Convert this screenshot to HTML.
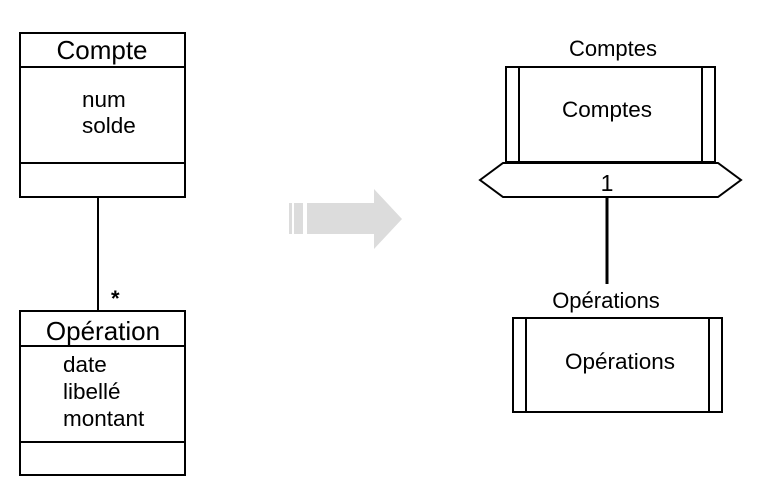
<!DOCTYPE html>
<html><head><style>body{margin:0;background:#fff}</style></head><body>
<svg width="759" height="497" xmlns="http://www.w3.org/2000/svg" style="display:block;font-family:'Liberation Sans',sans-serif">
<g fill="none" stroke="#000" stroke-width="2">
<rect x="20" y="33" width="165" height="164"/>
<line x1="20" y1="67" x2="185" y2="67"/>
<line x1="20" y1="163" x2="185" y2="163"/>
<rect x="20" y="311" width="165" height="164"/>
<line x1="20" y1="346" x2="185" y2="346"/>
<line x1="20" y1="442" x2="185" y2="442"/>
<line x1="98" y1="197" x2="98" y2="311"/>
<rect x="506" y="67" width="209" height="95"/>
<line x1="519" y1="67" x2="519" y2="162"/>
<line x1="702" y1="67" x2="702" y2="162"/>
<polygon points="480,180 503,163 718,163 741,180 718,197 503,197" fill="#fff"/>
<line x1="607" y1="197" x2="607" y2="284" stroke-width="3"/>
<rect x="513" y="318" width="209" height="94"/>
<line x1="526" y1="318" x2="526" y2="412"/>
<line x1="709" y1="318" x2="709" y2="412"/>
</g>
<g fill="#dcdcdc">
<rect x="289" y="203" width="3" height="31"/>
<rect x="294" y="203" width="9" height="31"/>
<rect x="307" y="203" width="68" height="31"/>
<polygon points="374,189 402,219 374,249"/>
</g>
<g fill="#000">
<text x="102" y="59" font-size="26" text-anchor="middle">Compte</text>
<text x="82" y="107" font-size="22.5">num</text>
<text x="82" y="133" font-size="22.5">solde</text>
<text x="103" y="340" font-size="26" text-anchor="middle">Opération</text>
<text x="63" y="372" font-size="22.5">date</text>
<text x="63" y="399" font-size="22.5">libellé</text>
<text x="63" y="426" font-size="22.5">montant</text>
<text x="111" y="306" font-size="22" font-weight="bold">*</text>
<text x="613" y="56" font-size="22" text-anchor="middle">Comptes</text>
<text x="607" y="117" font-size="22.5" text-anchor="middle">Comptes</text>
<text x="607" y="191" font-size="23" text-anchor="middle">1</text>
<text x="606" y="308" font-size="22" text-anchor="middle">Opérations</text>
<text x="620" y="369" font-size="22.5" text-anchor="middle">Opérations</text>
</g>
</svg>
</body></html>
